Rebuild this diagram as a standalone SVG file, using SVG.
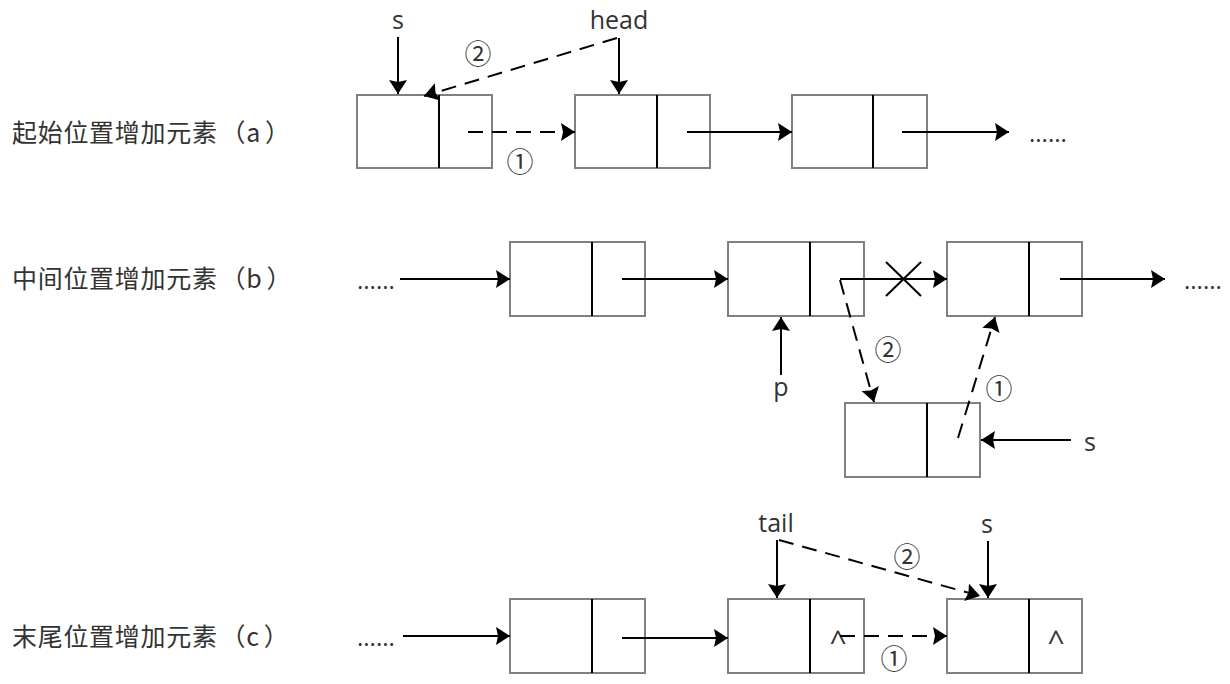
<svg xmlns="http://www.w3.org/2000/svg" width="1230" height="684" viewBox="0 0 1230 684">
<style>
.box{fill:#fff;stroke:#808080;stroke-width:2}
.div{stroke:#000;stroke-width:2}
.ln{fill:none;stroke:#000;stroke-width:2}
.dash{fill:none;stroke:#000;stroke-width:2;stroke-dasharray:15 9}
.lbl{font-family:"Noto Sans CJK SC","Noto Sans",sans-serif;font-size:25px;fill:#333;letter-spacing:0.7px}
.t{font-family:"Open Sans","Noto Sans",sans-serif;font-size:25px;fill:#333;text-anchor:middle}
.c{font-family:"Open Sans","Noto Sans",sans-serif;font-size:30px;fill:#333;text-anchor:middle}
.n{font-family:"Noto Sans CJK SC","DejaVu Sans",sans-serif;font-size:27px;fill:#333;text-anchor:middle}
.dots{font-family:"Open Sans",sans-serif;font-size:24px;fill:#333}
</style>
<defs>
<marker id="ah" markerUnits="userSpaceOnUse" markerWidth="16" markerHeight="20" refX="14" refY="9" orient="auto">
<path d="M0,0 L14,9 L0,18 L2,9 z" fill="#000"/>
</marker>
</defs>
<rect width="1230" height="684" fill="#fff"/>

<g id="labels">
<text class="lbl" x="12" y="142">起始位置增加元素<tspan dx="3">（</tspan><tspan>a</tspan><tspan dx="4">）</tspan></text>
<text class="lbl" x="12" y="288">中间位置增加元素<tspan dx="3">（</tspan><tspan>b</tspan><tspan dx="4">）</tspan></text>
<text class="lbl" x="12" y="646">末尾位置增加元素<tspan dx="3">（</tspan><tspan>c</tspan><tspan dx="4">）</tspan></text>
</g>

<g id="a1"><rect class="box" x="357" y="95" width="135" height="73"/><line class="div" x1="439" y1="95" x2="439" y2="168"/></g>
<g id="a2"><rect class="box" x="575" y="95" width="135" height="73"/><line class="div" x1="657" y1="95" x2="657" y2="168"/></g>
<g id="a3"><rect class="box" x="792" y="95" width="135" height="73"/><line class="div" x1="873" y1="95" x2="873" y2="168"/></g>

<g id="b1"><rect class="box" x="510" y="242" width="135" height="74"/><line class="div" x1="592" y1="242" x2="592" y2="316"/></g>
<g id="b2"><rect class="box" x="728" y="242" width="136" height="74"/><line class="div" x1="810" y1="242" x2="810" y2="316"/></g>
<g id="b3"><rect class="box" x="947" y="242" width="135" height="74"/><line class="div" x1="1029" y1="242" x2="1029" y2="316"/></g>
<g id="bs"><rect class="box" x="845" y="403" width="135" height="74"/><line class="div" x1="927" y1="403" x2="927" y2="477"/></g>

<g id="c1"><rect class="box" x="510" y="599" width="135" height="74"/><line class="div" x1="592" y1="599" x2="592" y2="673"/></g>
<g id="c2"><rect class="box" x="728" y="599" width="136" height="74"/><line class="div" x1="810" y1="599" x2="810" y2="673"/><text class="c" x="838" y="652">^</text></g>
<g id="c3"><rect class="box" x="947" y="599" width="135" height="74"/><line class="div" x1="1029" y1="599" x2="1029" y2="673"/><text class="c" x="1056" y="652">^</text></g>

<g id="pointers">
<text class="t" x="398" y="29">s</text>
<text class="t" x="619" y="29">head</text>
<text class="t" x="781" y="396">p</text>
<text class="t" x="1090" y="451">s</text>
<text class="t" x="776" y="532">tail</text>
<text class="t" x="987" y="533">s</text>
<text class="dots" x="1029" y="142">......</text>
<text class="dots" x="357" y="289">......</text>
<text class="dots" x="1184" y="289">......</text>
<text class="dots" x="357" y="646">......</text>
</g>

<g id="connectors">
<line class="ln" x1="398" y1="37" x2="398" y2="94" marker-end="url(#ah)"/>
<line class="ln" x1="619" y1="38" x2="619" y2="94" marker-end="url(#ah)"/>
<line class="dash" x1="617" y1="38" x2="424" y2="96" marker-end="url(#ah)"/>
<line class="dash" x1="468" y1="132" x2="575" y2="132" marker-end="url(#ah)"/>
<line class="ln" x1="687" y1="132" x2="792" y2="132" marker-end="url(#ah)"/>
<line class="ln" x1="902" y1="132" x2="1009" y2="132" marker-end="url(#ah)"/>

<line class="ln" x1="400" y1="279" x2="510" y2="279" marker-end="url(#ah)"/>
<line class="ln" x1="622" y1="279" x2="728" y2="279" marker-end="url(#ah)"/>
<line class="ln" x1="840" y1="279" x2="947" y2="279" marker-end="url(#ah)"/>
<line class="ln" x1="886" y1="262" x2="921" y2="296"/>
<line class="ln" x1="921" y1="262" x2="886" y2="296"/>
<line class="ln" x1="1060" y1="279" x2="1165" y2="279" marker-end="url(#ah)"/>
<line class="dash" x1="840" y1="280" x2="874" y2="402" marker-end="url(#ah)"/>
<line class="dash" x1="958" y1="438" x2="995" y2="317" marker-end="url(#ah)"/>
<line class="ln" x1="781" y1="375" x2="781" y2="317" marker-end="url(#ah)"/>
<line class="ln" x1="1071" y1="440" x2="981" y2="440" marker-end="url(#ah)"/>

<line class="ln" x1="403" y1="636" x2="510" y2="636" marker-end="url(#ah)"/>
<line class="ln" x1="622" y1="638" x2="728" y2="638" marker-end="url(#ah)"/>
<line class="ln" x1="777" y1="540" x2="777" y2="598" marker-end="url(#ah)"/>
<line class="dash" x1="779" y1="540" x2="980" y2="596" marker-end="url(#ah)"/>
<line class="ln" x1="988" y1="541" x2="988" y2="598" marker-end="url(#ah)"/>
<line class="dash" x1="840" y1="636" x2="947" y2="636" marker-end="url(#ah)"/>

<text class="n" x="478" y="64">②</text>
<text class="n" x="520" y="172">①</text>
<text class="n" x="888" y="360">②</text>
<text class="n" x="999" y="399">①</text>
<text class="n" x="907" y="567">②</text>
<text class="n" x="894" y="669">①</text>
</g>
</svg>
